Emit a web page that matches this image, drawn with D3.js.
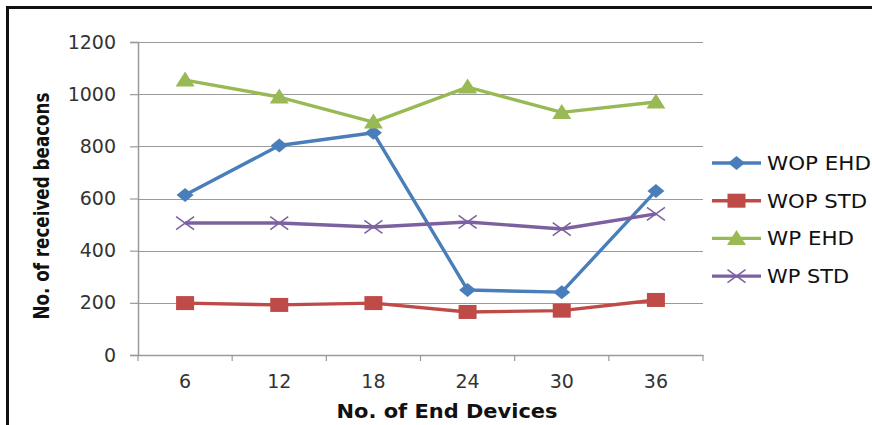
<!DOCTYPE html>
<html><head><meta charset="utf-8">
<script src="https://cdn.jsdelivr.net/npm/d3@7"></script>
<style>body{margin:0;background:#fff}svg{display:block}</style>
</head><body>
<svg id="c" width="872" height="425"></svg>
<script>
const categories = ["6","12","18","24","30","36"];
const seriesNames = ["WOP EHD","WOP STD","WP EHD","WP STD"];
const wopEhd = [613, 803, 852, 249, 241, 629];
const wopStd = [199, 192, 199, 165, 170, 211];
const wpEhd  = [1054, 989, 893, 1027, 930, 970];
const wpStd  = [506, 506, 491, 510, 483, 541];
const yTicks = [0, 200, 400, 600, 800, 1000, 1200];
const xTitle = "No. of End Devices";
const yTitle = "No. of received beacons";

const colors = ["#4a7ebb", "#be4b48", "#98b954", "#7d60a0"];
const markers = ["diamond", "square", "triangle", "x"];
const legendWidths = [104, 100, 87, 82];
const data = [wopEhd, wopStd, wpEhd, wpStd];

const svg = d3.select("#c");
const L = 138, R = 703, T = 42, B = 355;
const x = d3.scaleBand().domain(categories).range([L, R]);
const y = d3.scaleLinear().domain([0, 1200]).range([B, T]);

// frame
svg.append("line").attr("x1", 7.5).attr("x2", 7.5).attr("y1", 6).attr("y2", 425).attr("stroke", "#111").attr("stroke-width", 3);
svg.append("line").attr("x1", 6).attr("x2", 872).attr("y1", 7.5).attr("y2", 7.5).attr("stroke", "#111").attr("stroke-width", 3);

// gridlines
svg.append("g").selectAll("line").data(yTicks.filter(d => d > 0)).join("line")
  .attr("x1", L).attr("x2", R).attr("y1", d => Math.round(y(d)) + 0.5).attr("y2", d => Math.round(y(d)) + 0.5)
  .attr("stroke", "#9a9a9a").attr("stroke-width", 1.2);

// y axis
const ya = svg.append("g").attr("transform", `translate(${L},0)`)
  .call(d3.axisLeft(y).tickValues(yTicks).tickFormat(d3.format("d")).tickSize(8).tickPadding(14));
ya.select(".domain").attr("stroke", "#9a9a9a").attr("stroke-width", 1.5);
ya.selectAll(".tick line").attr("stroke", "#9a9a9a").attr("stroke-width", 1.2);
ya.selectAll(".tick text").attr("font-family", "DejaVu Sans").attr("font-size", 19).attr("fill", "#333");

// x axis
const xa = svg.append("g").attr("transform", `translate(0,${B})`)
  .call(d3.axisBottom(x).tickSize(0).tickPadding(20));
xa.select(".domain").attr("stroke", "#9a9a9a").attr("stroke-width", 1.5);
xa.selectAll(".tick text").attr("font-family", "DejaVu Sans").attr("font-size", 19).attr("fill", "#333");
xa.append("g").selectAll("line").data(d3.range(categories.length + 1)).join("line")
  .attr("x1", i => L + i * x.step()).attr("x2", i => L + i * x.step())
  .attr("y1", 0).attr("y2", 6).attr("stroke", "#9a9a9a").attr("stroke-width", 1.2);

// titles
svg.append("text").attr("x", 447).attr("y", 418).attr("text-anchor", "middle")
  .attr("font-family", "DejaVu Sans").attr("font-weight", "bold").attr("font-size", 19)
  .attr("fill", "#111").attr("textLength", 221).attr("lengthAdjust", "spacingAndGlyphs").text(xTitle);
svg.append("text").attr("transform", "translate(49,206) rotate(-90)").attr("text-anchor", "middle")
  .attr("font-family", "DejaVu Sans").attr("font-weight", "bold").attr("font-size", 21)
  .attr("fill", "#111").attr("textLength", 227).attr("lengthAdjust", "spacingAndGlyphs").text(yTitle);

function marker(g, type, color, cx, cy) {
  if (type === "diamond") {
    g.append("path").attr("d", `M${cx},${cy-7}L${cx+8.5},${cy}L${cx},${cy+7}L${cx-8.5},${cy}Z`).attr("fill", color);
  } else if (type === "square") {
    g.append("rect").attr("x", cx-9).attr("y", cy-7).attr("width", 18).attr("height", 14).attr("fill", color);
  } else if (type === "triangle") {
    g.append("path").attr("d", `M${cx},${cy-8.5}L${cx+9.5},${cy+6.5}L${cx-9.5},${cy+6.5}Z`).attr("fill", color);
  } else {
    g.append("path").attr("d", `M${cx-9},${cy-6.5}L${cx+9},${cy+6.5}M${cx-9},${cy+6.5}L${cx+9},${cy-6.5}`)
      .attr("stroke", color).attr("stroke-width", 1.5).attr("fill", "none");
  }
}

const line = d3.line().x((d, i) => x(categories[i]) + x.bandwidth() / 2).y(d => y(d));
data.forEach((vals, s) => {
  const g = svg.append("g");
  g.append("path").attr("d", line(vals)).attr("fill", "none").attr("stroke", colors[s])
    .attr("stroke-width", 3.4).attr("stroke-linejoin", "round");
  vals.forEach((v, i) => marker(g, markers[s], colors[s], x(categories[i]) + x.bandwidth() / 2, y(v)));
});

// legend
const leg = svg.append("g");
seriesNames.forEach((name, s) => {
  const ly = 163 + s * 37.7;
  const g = leg.append("g");
  g.append("line").attr("x1", 712).attr("x2", 761).attr("y1", ly).attr("y2", ly)
    .attr("stroke", colors[s]).attr("stroke-width", 3.4);
  marker(g, markers[s], colors[s], 736.5, ly);
  g.append("text").attr("x", 767).attr("y", ly + 7).attr("font-family", "DejaVu Sans").attr("font-size", 19)
    .attr("fill", "#111").attr("textLength", legendWidths[s]).attr("lengthAdjust", "spacingAndGlyphs").text(name);
});
</script>
</body></html>
